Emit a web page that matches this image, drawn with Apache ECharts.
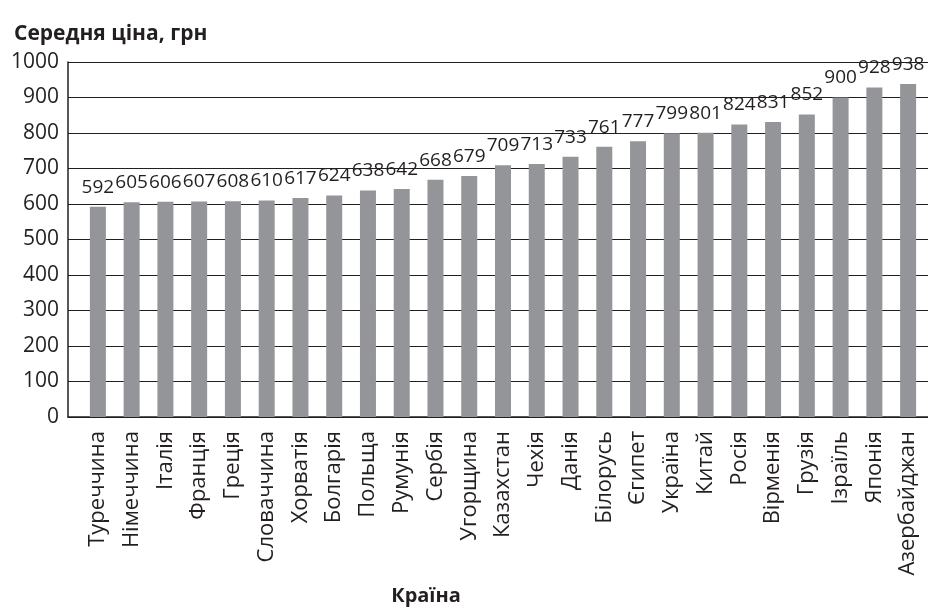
<!DOCTYPE html>
<html>
<head>
<meta charset="utf-8">
<script src="https://cdn.jsdelivr.net/npm/echarts@6/dist/echarts.min.js"></script>
<style>
  html, body { margin: 0; padding: 0; background: #fff; }
  #chart { width: 928px; height: 608px; }
</style>
</head>
<body>
<div id="chart"></div>
<script>
// дані з малюнка
const countries = ['Туреччина', 'Німеччина', 'Італія', 'Франція', 'Греція', 'Словаччина', 'Хорватія',
  'Болгарія', 'Польща', 'Румунія', 'Сербія', 'Угорщина', 'Казахстан', 'Чехія', 'Данія', 'Білорусь',
  'Єгипет', 'Україна', 'Китай', 'Росія', 'Вірменія', 'Грузія', 'Ізраїль', 'Японія', 'Азербайджан']
const prices = [592, 605, 606, 607, 608, 610, 617, 624, 638, 642, 668, 679, 709, 713, 733, 761,
  777, 799, 801, 824, 831, 852, 900, 928, 938]
const yMin = 0
const yMax = 1000
const yStep = 100

const font = 'Open Sans'
const ink = '#231f20'

const chart = echarts.init(document.getElementById('chart'))
const option = {
    animation: false,
    textStyle: { fontFamily: font },
    title: {
        text: 'Середня ціна, грн',
        left: 9,
        top: 19,
        textStyle: { fontFamily: font, fontSize: 21, fontWeight: 'bold', color: ink }
    },
    graphic: [{
        type: 'text',
        x: 426,
        y: 596,
        style: {
            text: 'Країна',
            fontFamily: font,
            fontSize: 20,
            fontWeight: 'bold',
            fill: ink,
            textAlign: 'center',
            textVerticalAlign: 'middle'
        }
    }],
    grid: [
        // сітка з осями
        { left: 68, right: 0, top: 62, height: 355 },
        // стовпчики
        { left: 81, right: 3, top: 62, height: 355 }
    ],
    xAxis: [
        {
            gridIndex: 0,
            type: 'category',
            data: countries,
            axisLine: { lineStyle: { color: ink, width: 1.5 } },
            axisTick: { show: false },
            axisLabel: { show: false }
        },
        {
            gridIndex: 1,
            type: 'category',
            data: countries,
            axisLine: { show: false },
            axisTick: { show: false },
            axisLabel: {
                rotate: 90,
                interval: 0,
                margin: 14,
                fontFamily: font,
                fontSize: 22,
                color: ink
            }
        }
    ],
    yAxis: [
        {
            gridIndex: 0,
            type: 'value',
            min: yMin,
            max: yMax,
            interval: yStep,
            axisLine: { show: true, lineStyle: { color: ink, width: 1.5 } },
            axisTick: { show: false },
            axisLabel: {
                margin: 9,
                fontFamily: font,
                fontSize: 21,
                color: ink,
                formatter: v => String(v)
            },
            splitLine: { lineStyle: { color: ink, width: 1.2 } }
        },
        {
            gridIndex: 1,
            type: 'value',
            min: yMin,
            max: yMax,
            interval: yStep,
            axisLine: { show: false },
            axisTick: { show: false },
            axisLabel: { show: false },
            splitLine: { show: false }
        }
    ],
    series: [
        {
            type: 'bar',
            xAxisIndex: 1,
            yAxisIndex: 1,
            data: prices,
            barWidth: 16,
            itemStyle: { color: '#939598' },
            label: {
                show: true,
                position: 'top',
                distance: 10,
                fontFamily: font,
                fontSize: 19,
                color: ink
            }
        }
    ]
}
chart.setOption(option)
</script>
</body>
</html>
